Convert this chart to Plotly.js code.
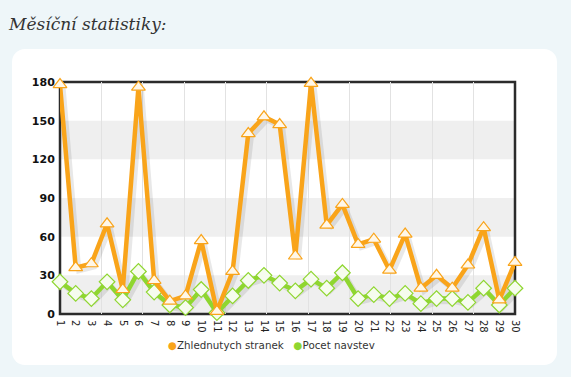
<!DOCTYPE html>
<html>
<head>
<meta charset="utf-8">
<script src="https://cdn.plot.ly/plotly-3.0.1.min.js"></script>
<style>
html,body{margin:0;padding:0;background:#eef6f9;}
#wrap{position:relative;width:571px;height:377px;background:#eef6f9;overflow:hidden;}
#panel{position:absolute;left:12px;top:49px;width:545px;height:316px;background:#fff;border-radius:13px;}
#ttl{position:absolute;left:9px;top:14px;font-family:"DejaVu Serif",serif;font-style:italic;font-size:17px;color:#333;}
#chart{position:absolute;left:0;top:0;width:571px;height:377px;}
</style>
</head>
<body>
<div id="wrap">
<div id="panel"></div>
<div id="ttl">Měsíční statistiky:</div>
<div id="chart"></div>
</div>
<script>
const days = [1,2,3,4,5,6,7,8,9,10,11,12,13,14,15,16,17,18,19,20,21,22,23,24,25,26,27,28,29,30];
const dayLabels = days.map(String);
const pageViews = [178,36,39,70,19,176,26,10,14,57,2,33,140,153,147,45,179,69,85,54,58,34,62,20,30,20,38,67,11,40];
const visits = [25,16,12,25,11,33,17,7,5,19,1,14,26,30,24,18,27,20,32,12,15,12,16,8,12,12,9,20,7,20];
const seriesNames = ["Zhlednutych stranek","Pocet navstev"];
const yTicks = [0,30,60,90,120,150,180];

const orange = "#f9a41a";
const green = "#8fd630";

const shadow = (y) => ({
  x: days, y: y, type: "scatter", mode: "lines",
  xaxis: "x3", yaxis: "y3",
  line: {color: "rgba(0,0,0,0.09)", width: 5},
  showlegend: false, hoverinfo: "skip"
});

const traces = [
  {x: days, y: days.map(() => null), xaxis: "x", yaxis: "y", type: "scatter", mode: "lines",
   showlegend: false, hoverinfo: "skip"},
  {x: [0], y: [null], xaxis: "x2", type: "scatter", showlegend: false, hoverinfo: "skip"},
  shadow(pageViews), shadow(visits),
  {x: days, y: visits, type: "scatter", mode: "lines+markers", name: seriesNames[1],
   xaxis: "x4", yaxis: "y4",
   line: {color: green, width: 4.5}, cliponaxis: false,
   marker: {symbol: "diamond", size: 12, color: "#f6fcee", line: {color: green, width: 1.2}},
   showlegend: false},
  {x: days, y: pageViews, type: "scatter", mode: "lines+markers", name: seriesNames[0],
   xaxis: "x4", yaxis: "y4",
   line: {color: orange, width: 4.5}, cliponaxis: false,
   marker: {symbol: "triangle-up", size: 12, color: "#fff7e8", line: {color: orange, width: 1.2}},
   showlegend: false}
];

const shapes = [];
for (let i = 0; i < yTicks.length - 1; i += 2) {
  shapes.push({type: "rect", xref: "paper", yref: "y", x0: 0, x1: 1, y0: yTicks[i], y1: yTicks[i+1],
    fillcolor: "#efefef", line: {width: 0}, layer: "below"});
}
shapes.push({type: "rect", xref: "paper", yref: "paper", x0: 0, x1: 1, y0: 0, y1: 1,
  fillcolor: "rgba(0,0,0,0)", line: {color: "#2b2b2b", width: 2.5}, layer: "below"});

const legendText =
  "<span style='color:" + orange + "'>●</span>" + seriesNames[0] +
  "   <span style='color:" + green + "'>●</span>" + seriesNames[1];

const layout = {
  width: 571, height: 377,
  paper_bgcolor: "rgba(0,0,0,0)", plot_bgcolor: "rgba(0,0,0,0)",
  margin: {l: 60, r: 56, t: 82, b: 63, autoexpand: false},
  showlegend: false,
  xaxis: {range: [1, 30], tickmode: "array", tickvals: days, ticktext: dayLabels,
    tickangle: 90, showgrid: false, zeroline: false, showline: false, automargin: false,
    ticks: "outside", ticklen: 3, tickcolor: "rgba(0,0,0,0)",
    tickfont: {family: "DejaVu Sans", size: 10, color: "#222"}, fixedrange: true},
  yaxis: {range: [0, 180], tickmode: "array", tickvals: yTicks, showgrid: false, zeroline: false,
    automargin: false, ticks: "outside", ticklen: 2, tickcolor: "rgba(0,0,0,0)",
    tickfont: {family: "DejaVu Sans", size: 11, color: "#111", weight: "bold"}, fixedrange: true},
  xaxis2: {overlaying: "x", range: [0, 11], dtick: 1, showgrid: true, gridcolor: "#e2e2e2",
    showticklabels: false, zeroline: false, ticks: "", anchor: "y"},
  xaxis3: {overlaying: "x", range: [0.8, 29.8], visible: false, anchor: "y3"},
  yaxis3: {overlaying: "y", range: [2.5, 182.5], visible: false, anchor: "x3"},
  xaxis4: {overlaying: "x", range: [1, 30], visible: false, anchor: "y4"},
  yaxis4: {overlaying: "y", range: [0, 180], visible: false, anchor: "x4"},
  annotations: [{xref: "paper", yref: "paper", x: 0.465, y: -0.135, xanchor: "center", yanchor: "middle",
    showarrow: false, text: legendText,
    font: {family: "DejaVu Sans", size: 10.3, color: "#333"}}],
  shapes: shapes
};

Plotly.newPlot("chart", traces, layout, {displayModeBar: false, staticPlot: true});
</script>
</body>
</html>
